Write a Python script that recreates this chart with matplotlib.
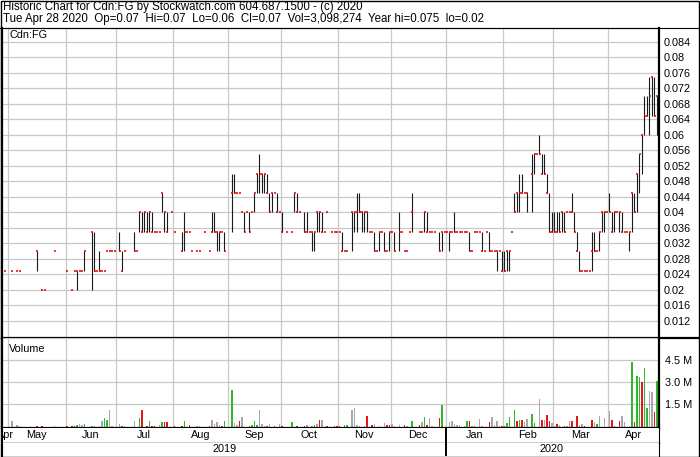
import matplotlib.pyplot as plt
from matplotlib.lines import Line2D
from matplotlib.patches import Rectangle
import numpy as np
import pandas as pd

plt.rcParams['font.family'] = ['Liberation Sans', 'DejaVu Sans']

W, H = 700, 457
dates = pd.bdate_range('2019-04-29', '2020-04-28')  # one slot per weekday
N = None

# daily prices in 1/1000 $ (None = no trade shown), index = slot in dates
p_lo = [25, N, N, 25, N, 25, 25, N, N, N,
        N, N, N, 25, N, 20, 20, N, N, N,
        30, N, N, N, N, 25, N, 20, 25, 20,
        25, 25, 25, N, N, 20, 25, 25, 25, 25,
        25, 30, 30, 30, 30, N, 30, 25, 30, N,
        N, N, 30, 30, 35, 35, 35, 35, 35, 35,
        35, 35, 35, 40, 35, 35, N, 40, 35, N,
        N, 30, 30, 35, 35, 30, N, 30, 30, N,
        35, N, 30, 35, 35, 30, 30, 35, 30, N,
        N, 35, 45, 45, 45, 40, 35, 40, 35, 40,
        40, 45, 45, 45, 45, 45, 40, 40, 45, 40,
        40, 35, N, 35, N, 35, 40, 40, 40, N,
        35, 35, 35, 30, 30, 35, 35, 35, 35, 40,
        N, 35, 35, 35, 35, 30, 30, 30, N, 30,
        35, 35, 40, 35, 35, 35, 35, 35, 30, 30,
        30, 35, 30, 30, 30, 35, 30, N, 30, 35,
        30, 30, 35, 35, N, N, 35, 35, 35, 35,
        35, 35, 35, N, 30, 30, 35, 35, 30, 35,
        35, 35, 35, 35, 35, 35, 30, 30, 35, 35,
        35, 30, 30, 35, 30, 30, 30, 25, 30, 25,
        25, 25, 25, 35, 40, 40, 40, 45, 45, 40,
        N, 40, 50, 55, 55, 50, 50, 45, 35, 35,
        35, 35, 35, 35, 35, 40, 40, 40, 35, 30,
        25, 25, 25, 25, 25, 25, 30, 30, 30, 35,
        35, 40, 40, 35, 35, 40, 35, 35, 35, 35,
        30, 35, 40, 40, 45, 50, 60, 65, 60, 65, 65, 60]

p_hi = [25, N, N, 25, N, 25, 25, N, N, N,
        N, N, N, 30, N, 20, 20, N, N, N,
        30, N, N, N, N, 25, N, 20, 25, 25,
        25, 25, 30, N, N, 35, 35, 25, 30, 25,
        25, 30, 30, 30, 30, N, 35, 30, 30, N,
        N, N, 35, 30, 40, 40, 40, 40, 40, 40,
        35, 35, 35, 45, 40, 40, N, 40, 35, N,
        N, 35, 40, 35, 35, 30, N, 30, 30, N,
        35, N, 30, 40, 40, 35, 35, 35, 35, N,
        N, 50, 50, 45, 45, 40, 40, 40, 40, 40,
        45, 50, 55, 50, 50, 50, 45, 45, 45, 45,
        40, 40, N, 35, N, 35, 45, 45, 40, N,
        40, 40, 35, 35, 35, 40, 40, 40, 35, 40,
        N, 35, 35, 35, 35, 35, 30, 30, N, 40,
        40, 45, 45, 40, 40, 40, 35, 35, 35, 30,
        35, 35, 35, 30, 35, 35, 35, N, 40, 35,
        30, 30, 35, 45, N, N, 35, 35, 40, 40,
        35, 35, 35, N, 35, 35, 35, 35, 35, 35,
        40, 35, 35, 35, 35, 35, 35, 30, 35, 35,
        35, 35, 30, 35, 35, 30, 30, 30, 30, 30,
        30, 30, 30, 35, 45, 45, 50, 50, 45, 45,
        N, 55, 55, 55, 60, 55, 55, 50, 45, 40,
        40, 40, 40, 40, 40, 40, 40, 45, 40, 35,
        30, 25, 25, 25, 25, 35, 35, 30, 35, 40,
        40, 40, 45, 40, 40, 40, 40, 40, 35, 35,
        35, 45, 45, 50, 55, 60, 70, 70, 75, 75, 75, 70]

p_cl = [25, N, N, 25, N, 25, 25, N, N, N,
        N, N, N, 30, N, 20, 20, N, N, N,
        30, N, N, N, N, 25, N, 20, 25, 25,
        25, 25, 30, N, N, 35, 25, 25, 25, 25,
        25, 30, 30, 30, 30, N, 30, 25, 30, N,
        N, N, 30, 30, 40, 35, 40, 35, 40, 35,
        35, 35, 35, 45, 40, 35, N, 40, 35, N,
        N, 30, 35, 35, 35, 30, N, 30, 30, N,
        35, N, 30, 35, 35, 35, 35, 35, 30, N,
        N, 45, 45, 45, 45, 40, 35, 40, 35, 40,
        45, 50, 50, 50, 50, 45, 40, 45, 45, 40,
        40, 35, N, 35, N, 35, 45, 40, 40, N,
        35, 35, 35, 35, 35, 40, 40, 35, 35, 40,
        N, 35, 35, 35, 35, 30, 30, 30, N, 40,
        40, 40, 40, 40, 40, 40, 35, 35, 30, 30,
        35, 35, 30, 30, 35, 35, 30, N, 35, 35,
        30, 30, 35, 40, N, N, 35, 35, 40, 35,
        35, 35, 35, N, 30, 35, 35, 35, 35, 35,
        35, 35, 35, 35, 35, 35, 30, 30, 35, 35,
        35, 30, 30, 35, 30, 30, 30, 30, 30, 25,
        25, 30, 30, 35, 40, 45, 45, 45, 45, 45,
        N, 50, 55, 55, 55, 50, 50, 45, 35, 35,
        35, 35, 35, 40, 35, 40, 40, 40, 35, 30,
        25, 25, 25, 25, 25, 30, 30, 30, 35, 40,
        40, 40, 40, 35, 40, 40, 40, 35, 35, 35,
        35, 45, 40, 50, 55, 60, 65, 65, 70, 75, 65, 70]

# volume bars: slot, thousands of shares, u = up / d = down / n = unchanged
v_day = [3, 5, 6, 13, 15, 20, 25, 27, 28, 29,
         30, 31, 32, 35, 36, 38, 39, 40, 41, 42,
         43, 46, 47, 48, 52, 54, 55, 57, 58, 59,
         60, 62, 63, 64, 65, 68, 71, 72, 74, 77,
         78, 82, 83, 84, 85, 86, 87, 88, 91, 92,
         93, 94, 95, 98, 99, 100, 101, 102, 103, 104,
         105, 106, 108, 110, 111, 115, 117, 120, 121, 123,
         124, 125, 126, 127, 129, 132, 133, 134, 136, 137,
         139, 140, 141, 142, 144, 145, 147, 148, 150, 152,
         153, 154, 155, 156, 158, 160, 161, 163, 166, 167,
         168, 169, 170, 171, 174, 175, 178, 179, 180, 181,
         182, 184, 185, 186, 187, 188, 190, 191, 194, 195,
         196, 197, 198, 199, 200, 201, 202, 204, 205, 206,
         207, 208, 209, 211, 212, 214, 215, 216, 217, 218,
         219, 220, 221, 222, 224, 225, 226, 227, 229, 230,
         231, 232, 235, 236, 237, 238, 240, 242, 243, 244,
         246, 247, 248, 250, 251, 252, 253, 254, 255, 256,
         257, 258, 259, 260, 261]
v_k = [315, 88, 20, 20, 20, 20, 20, 20, 20, 43,
       156, 43, 156, 20, 20, 20, 361, 543, 384, 1066,
       20, 156, 20, 20, 315, 565, 1066, 20, 315, 20,
       25, 88, 270, 270, 270, 20, 20, 315, 88, 20,
       20, 20, 429, 156, 247, 88, 20, 315, 2476, 202,
       88, 315, 611, 25, 88, 315, 88, 1066, 133, 20,
       25, 110, 20, 133, 20, 270, 20, 20, 88, 20,
       88, 156, 429, 384, 25, 25, 20, 25, 88, 88,
       1112, 1225, 88, 25, 20, 656, 88, 156, 20, 202,
       88, 88, 133, 20, 88, 88, 20, 315, 88, 247,
       611, 88, 543, 20, 543, 1453, 247, 315, 156, 88,
       88, 20, 315, 315, 20, 20, 497, 20, 270, 611,
       88, 361, 25, 20, 25, 202, 611, 1112, 315, 429,
       384, 270, 497, 838, 202, 1862, 429, 429, 725, 315,
       202, 20, 156, 88, 20, 20, 315, 315, 702, 88,
       156, 25, 384, 247, 156, 702, 543, 1043, 429, 20,
       315, 702, 247, 20, 4408, 247, 3430, 3385, 3044, 3953,
       1225, 2362, 2294, 930, 3098]
v_dir = ("nnnddndddu" "nnuuunnuun" "nndnnuddud" "dnuddddudn" "ndnnnnduun"
         "ndnuuuunnn" "dndnduddnn" "undndddduu" "nnnnnddnnn" "ddnnndnudn"
         "udnndunnnn" "nnudnunndn" "nnndduuudu" "dnnuundndd" "nndndnnddn"
         "nddnunnndu" "dnnnuduudu" "unndu")

price_ticks = [0.012, 0.016, 0.02, 0.024, 0.028, 0.032, 0.036, 0.04, 0.044,
               0.048, 0.052, 0.056, 0.06, 0.064, 0.068, 0.072, 0.076, 0.08, 0.084]
vol_ticks = [1.5e6, 3.0e6, 4.5e6, 6.0e6]
vol_labels = ['1.5 M', '3.0 M', '4.5 M', '']
header1 = 'Historic Chart for Cdn:FG by Stockwatch.com 604.687.1500 - (c) 2020'
header2 = ('Tue Apr 28 2020  Op=0.07  Hi=0.07  Lo=0.06  Cl=0.07  '
           'Vol=3,098,274  Year hi=0.075  lo=0.02')

GRID = '#c8c8c8'
COLS = {'u': '#2eb82e', 'd': '#e3161b', 'n': '#a8a8a8'}
FS = 7.8


def box(x, y, w, h):
    # pixel box, measured from the top left, to figure fraction
    return [x / W, 1 - (y + h) / H, w / W, h / H]


n = len(dates)
lo = np.array(p_lo, dtype=float) / 1000
hi = np.array(p_hi, dtype=float) / 1000
cl = np.array(p_cl, dtype=float) / 1000
idx = np.arange(n)
starts = [i for i in range(1, n) if dates[i].month != dates[i - 1].month]
bounds = [0] + starts + [n]
x_lo, x_hi = -0.9, 261.9

fig = plt.figure(figsize=(W / 100, H / 100), dpi=100)

# price panel
ax = fig.add_axes(box(2, 28, 657, 310))
ax.set_xlim(x_lo, x_hi)
ax.set_ylim(0.00761, 0.08761)
ax.set_xticks([b - 0.5 for b in starts])
ax.set_yticks(price_ticks)
ax.set_yticklabels([f'{t:g}' for t in price_ticks])
ax.yaxis.tick_right()
ax.tick_params(axis='y', length=0, pad=3.5, labelsize=FS)
ax.tick_params(axis='x', length=0, labelbottom=False)
ax.grid(True, color=GRID, lw=0.9)
ax.set_axisbelow(True)
ok = ~np.isnan(cl)
ax.vlines(idx[ok], lo[ok], hi[ok], color='#1a1a1a', lw=0.8)
ax.hlines(cl[ok], idx[ok] - 0.25, idx[ok] + 0.55, color='#e00000', lw=1.1)
ax.text(8 / 657, 1 - 7 / 310, 'Cdn:FG', transform=ax.transAxes, fontsize=FS,
        va='center', ha='left')
for s in ['left', 'right', 'bottom']:
    ax.spines[s].set_linewidth(1.6)
ax.spines['top'].set_linewidth(0.8)

# volume panel
floor = -136e3
axv = fig.add_axes(box(2, 338, 657, 90))
axv.set_xlim(x_lo, x_hi)
axv.set_ylim(floor, 6022e3)
vol = np.array(v_k, dtype=float) * 1000
axv.bar(v_day, vol - floor, bottom=floor, width=0.6,
        color=[COLS[c] for c in v_dir], lw=0)
axv.set_xticks([b - 0.5 for b in starts])
axv.set_yticks(vol_ticks)
axv.set_yticklabels(vol_labels)
axv.yaxis.tick_right()
axv.tick_params(axis='y', length=0, pad=4, labelsize=FS)
axv.tick_params(axis='x', length=0, labelbottom=False)
axv.grid(True, color=GRID, lw=0.9)
axv.set_axisbelow(True)
axv.text(7 / 657, 1 - 11 / 90, 'Volume', transform=axv.transAxes, fontsize=FS,
         va='center', ha='left')
axv.spines['top'].set_visible(False)
for s in ['left', 'right', 'bottom']:
    axv.spines[s].set_linewidth(1.6)

# month row
axm = fig.add_axes(box(2, 428, 657, 15))
axm.set_xlim(x_lo, x_hi)
axm.set_ylim(0, 1)
axm.set_xticks([])
axm.set_yticks([])
for a, b in zip(bounds[:-1], bounds[1:]):
    axm.text((a + b - 1) / 2, 0.5, dates[a].strftime('%b'), fontsize=FS,
             ha='center', va='center', clip_on=True)
axm.spines['top'].set_visible(False)
axm.spines['bottom'].set_linewidth(1.0)

# year row
axy = fig.add_axes(box(2, 443, 657, 13))
axy.set_xlim(x_lo, x_hi)
axy.set_ylim(0, 1)
axy.set_xticks([])
axy.set_yticks([])
ystart = [0] + [s for s in starts if dates[s].month == 1] + [n]
for a, b in zip(ystart[:-1], ystart[1:]):
    axy.text((a + b - 1) / 2, 0.5, str(dates[a].year), fontsize=FS,
             ha='center', va='center')
for s in ystart[1:-1]:
    axm.axvline(s - 0.5, color='black', lw=1.4)
    axy.axvline(s - 0.5, color='black', lw=1.4)
axy.spines['top'].set_visible(False)
axy.spines['bottom'].set_visible(False)

# header and frame
fig.text(3 / W, 1 - 7 / H, header1, fontsize=8.3, va='center', ha='left')
fig.text(3 / W, 1 - 19 / H, header2, fontsize=8.3, va='center', ha='left')
fig.add_artist(Line2D([0, 1], [1 - 28 / H] * 2, color='black', lw=0.8,
                      transform=fig.transFigure))
fig.add_artist(Line2D([659 / W, 1], [1 - 338 / H] * 2, color='black', lw=1.6,
                      transform=fig.transFigure))
fig.add_artist(Rectangle((0.5 / W, 0.5 / H), (W - 1.5) / W, (H - 1.5) / H,
                         fill=False, ec='black', lw=1.0,
                         transform=fig.transFigure))

fig.savefig('out.png', dpi=100)
